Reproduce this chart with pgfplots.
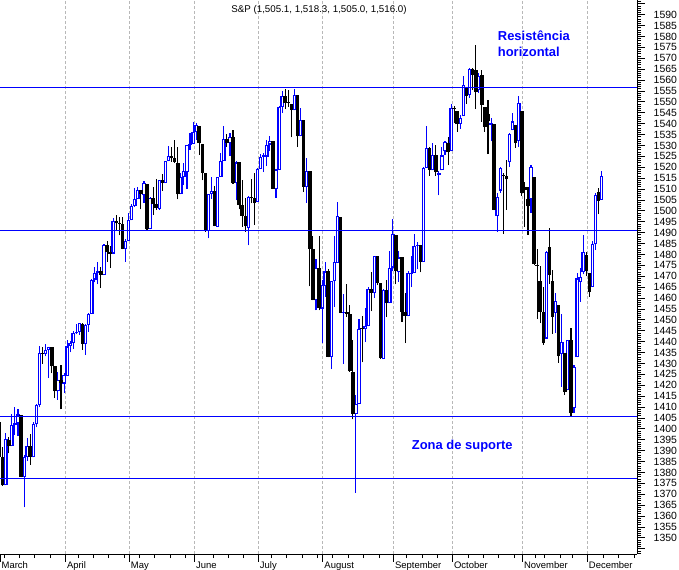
\documentclass[border=0pt]{standalone}
\usepackage{pgfplots}
\pgfplotsset{compat=1.18}
\usepackage{pgfplotstable}
\usepackage{fontspec}
\setmainfont{Liberation Sans}
\definecolor{cblue}{RGB}{0,0,255}

% up candles (close >= open): x O H L C
\pgfplotstableread{
x O H L C
3 1374.1 1397.9 1374.1 1395.4
5 1392.0 1407.0 1392.0 1401.9
6 1401.9 1410.2 1397.3 1402.8
7 1402.8 1409.3 1396.7 1406.6
9 1377.9 1388.1 1364.0 1387.2
10 1387.1 1395.7 1385.2 1392.3
12 1386.9 1403.2 1386.9 1402.1
13 1402.0 1411.5 1400.7 1410.9
14 1410.9 1437.8 1409.9 1435.0
16 1434.5 1438.9 1433.2 1436.1
17 1436.1 1437.7 1423.3 1437.5
20 1417.2 1426.2 1413.3 1422.5
22 1420.8 1425.5 1416.4 1424.6
23 1424.3 1440.6 1424.3 1437.8
24 1437.8 1440.2 1435.1 1439.4
25 1439.4 1444.9 1436.7 1443.8
26 1443.8 1448.1 1443.3 1444.6
27 1444.6 1448.7 1443.0 1448.4
29 1438.9 1448.0 1433.9 1447.8
30 1447.8 1453.1 1444.6 1452.9
31 1452.8 1468.6 1452.8 1468.3
32 1468.5 1474.4 1467.2 1471.5
33 1471.5 1476.6 1466.4 1472.5
35 1470.7 1484.7 1470.7 1484.4
38 1480.4 1496.6 1480.4 1495.4
42 1482.4 1487.3 1476.7 1486.3
43 1486.1 1499.1 1486.1 1495.9
44 1495.6 1503.3 1495.6 1502.4
45 1502.4 1510.3 1501.8 1505.6
46 1505.6 1511.0 1505.5 1509.5
48 1507.3 1513.8 1503.8 1512.6
50 1491.5 1506.2 1491.5 1505.9
53 1500.8 1514.2 1500.4 1514.1
55 1512.7 1522.8 1512.7 1522.8
56 1522.8 1529.9 1522.7 1525.1
60 1507.5 1517.4 1507.5 1515.7
61 1515.6 1521.8 1512.0 1518.1
62 1517.6 1530.2 1510.1 1530.2
63 1530.2 1535.6 1528.0 1530.6
64 1530.6 1540.6 1530.6 1536.3
65 1536.3 1540.5 1532.4 1539.2
69 1490.7 1507.8 1487.4 1507.7
70 1507.6 1515.4 1505.6 1509.1
72 1492.7 1515.7 1492.7 1515.7
73 1515.6 1526.4 1515.6 1523.0
74 1522.9 1538.7 1522.9 1532.9
76 1531.0 1535.9 1525.3 1533.7
78 1512.8 1522.9 1504.8 1522.2
82 1492.2 1506.8 1484.2 1506.3
85 1504.0 1519.5 1504.0 1519.4
86 1519.1 1526.0 1519.1 1524.9
87 1524.9 1526.6 1517.7 1525.4
88 1524.9 1532.4 1520.5 1530.4
89 1530.4 1534.3 1527.5 1531.9
91 1509.9 1519.3 1506.1 1518.8
92 1518.7 1547.9 1518.7 1547.7
93 1547.7 1555.1 1544.9 1552.5
97 1546.1 1555.9 1546.1 1553.1
99 1534.1 1547.2 1534.1 1541.6
101 1511.0 1524.3 1503.8 1518.1
104 1458.9 1477.9 1454.3 1473.9
106 1455.2 1468.4 1439.6 1465.8
107 1465.5 1476.4 1460.6 1472.2
109 1433.0 1467.7 1427.4 1467.7
110 1467.6 1488.3 1455.8 1476.7
111 1476.2 1503.9 1476.2 1497.5
113 1453.1 1462.0 1429.7 1453.6
117 1406.6 1415.7 1370.6 1411.3
118 1411.3 1450.3 1411.3 1445.9
120 1445.6 1455.3 1439.8 1447.1
121 1447.0 1464.9 1447.0 1464.1
123 1462.3 1479.4 1460.1 1479.4
126 1432.0 1464.0 1432.0 1463.8
128 1457.6 1481.5 1457.6 1474.0
129 1474.0 1496.4 1472.2 1489.4
131 1472.0 1481.5 1467.4 1478.6
134 1451.7 1472.5 1451.7 1471.5
135 1471.1 1479.5 1465.0 1471.6
136 1471.5 1489.6 1471.5 1484.0
137 1483.9 1485.9 1473.2 1484.3
139 1476.6 1519.9 1476.6 1519.8
140 1519.8 1538.7 1519.8 1529.0
142 1518.6 1530.9 1518.6 1525.8
144 1516.3 1518.3 1507.1 1517.2
145 1518.6 1529.4 1518.6 1525.4
146 1527.3 1532.2 1525.8 1531.4
148 1527.3 1549.0 1527.3 1547.0
151 1539.9 1544.0 1537.6 1542.8
152 1543.4 1561.9 1543.4 1557.6
154 1553.2 1565.3 1551.8 1565.2
157 1555.4 1563.0 1554.1 1561.8
161 1539.3 1542.8 1531.8 1540.1
163 1497.8 1508.1 1490.4 1506.3
164 1509.3 1520.0 1508.2 1519.6
167 1522.2 1535.5 1520.2 1535.3
168 1536.9 1544.7 1536.9 1541.0
170 1532.2 1552.8 1529.4 1549.4
174 1505.3 1520.8 1499.1 1520.3
179 1441.4 1481.4 1441.4 1481.1
182 1453.1 1462.2 1443.9 1458.7
184 1434.5 1452.6 1419.3 1439.7
186 1417.6 1440.9 1417.6 1440.7
188 1409.6 1429.5 1407.4 1428.2
189 1432.9 1471.6 1432.9 1469.0
190 1467.4 1473.8 1458.4 1469.7
191 1471.8 1488.9 1470.9 1481.1
194 1465.2 1486.1 1465.2 1485.0
195 1484.6 1508.0 1482.2 1507.3
197 1505.1 1518.3 1505.0 1516.0
}\uptab

% down candles (close < open): x O H L C
\pgfplotstableread{
x O H L C
1 1403.2 1403.4 1386.9 1387.2
2 1387.1 1391.9 1374.0 1374.1
4 1395.0 1396.1 1388.8 1392.0
8 1406.2 1406.2 1377.7 1378.0
11 1392.3 1397.5 1383.6 1387.0
15 1435.0 1437.7 1429.9 1434.5
18 1437.5 1437.5 1425.5 1428.6
19 1428.6 1428.6 1414.1 1417.2
21 1422.5 1429.2 1408.9 1420.9
28 1448.2 1448.4 1436.2 1438.9
34 1472.5 1474.2 1464.5 1470.7
36 1484.4 1486.3 1476.7 1480.9
37 1480.9 1483.8 1473.7 1480.4
39 1495.3 1498.0 1491.4 1494.3
40 1494.2 1497.3 1488.7 1494.1
41 1494.1 1497.2 1482.3 1482.4
47 1509.4 1509.4 1500.7 1507.7
49 1512.3 1512.3 1491.4 1491.5
51 1505.8 1510.9 1498.3 1503.2
52 1503.1 1514.8 1500.4 1501.2
54 1514.0 1517.1 1509.3 1512.8
57 1525.1 1529.2 1522.6 1524.1
58 1524.1 1532.4 1521.9 1522.3
59 1522.1 1529.3 1505.2 1507.5
66 1539.1 1539.1 1525.6 1531.0
67 1530.6 1530.6 1514.0 1517.4
68 1517.4 1517.4 1490.4 1490.7
71 1509.1 1511.3 1492.9 1493.0
75 1532.9 1535.4 1529.3 1531.1
77 1533.7 1537.3 1512.4 1512.8
79 1522.2 1522.2 1500.7 1502.6
80 1502.6 1514.3 1492.7 1497.7
81 1497.7 1506.1 1490.5 1492.9
83 1506.3 1514.8 1503.4 1505.7
84 1505.7 1517.5 1493.6 1503.4
90 1531.9 1531.9 1510.0 1510.1
94 1552.5 1555.9 1546.7 1549.5
95 1549.5 1555.3 1547.7 1549.4
96 1549.2 1549.2 1533.7 1546.2
98 1553.2 1553.2 1529.2 1534.1
100 1541.6 1541.6 1508.6 1511.0
102 1518.1 1518.1 1465.3 1482.7
103 1482.4 1488.5 1458.9 1459.0
105 1473.9 1488.3 1454.3 1455.3
108 1472.2 1473.2 1432.8 1433.1
112 1497.2 1497.2 1453.1 1453.1
114 1453.4 1466.3 1451.5 1452.9
115 1452.9 1456.7 1426.2 1426.5
116 1426.2 1440.8 1404.4 1406.7
119 1445.9 1451.8 1430.5 1445.6
122 1464.1 1472.1 1453.9 1462.5
124 1479.4 1479.4 1465.8 1466.8
125 1466.7 1466.7 1432.0 1432.4
127 1463.7 1468.4 1451.3 1457.6
130 1488.8 1488.8 1466.3 1472.3
132 1478.6 1478.6 1449.1 1453.6
133 1453.5 1462.3 1439.3 1451.7
138 1484.2 1484.2 1471.8 1476.7
141 1528.7 1529.1 1516.0 1518.8
143 1525.8 1530.2 1516.2 1517.7
147 1531.2 1533.7 1521.0 1526.8
149 1546.9 1548.0 1540.4 1546.6
150 1545.8 1545.8 1536.3 1539.6
153 1556.5 1556.5 1549.0 1552.6
155 1565.0 1565.4 1555.5 1562.5
156 1564.7 1576.1 1546.7 1554.4
158 1562.3 1564.7 1540.8 1548.7
159 1547.8 1547.8 1536.3 1538.5
160 1544.4 1550.7 1526.0 1541.2
162 1540.0 1540.0 1500.3 1500.6
165 1516.6 1517.2 1489.6 1515.9
166 1516.2 1523.2 1500.5 1514.4
169 1539.4 1539.4 1529.0 1531.0
171 1545.8 1545.8 1506.8 1508.4
172 1511.1 1513.2 1492.5 1509.7
173 1505.6 1510.8 1489.0 1502.2
175 1515.5 1515.5 1475.0 1475.6
176 1475.3 1482.5 1450.3 1474.8
177 1467.6 1474.8 1448.5 1453.7
178 1453.7 1464.9 1438.5 1439.2
180 1483.4 1492.1 1466.5 1470.6
181 1468.0 1472.7 1443.5 1451.2
183 1456.7 1456.7 1430.4 1433.3
185 1434.7 1434.7 1415.6 1416.8
187 1440.7 1446.1 1406.1 1407.2
192 1479.6 1481.2 1470.1 1472.4
193 1471.3 1471.3 1460.7 1462.8
196 1508.6 1510.6 1498.4 1504.7
}\dntab

\pgfplotsset{
  candlepart/.style 2 args={draw=none, mark=none, forget plot,
    error bars/.cd, y dir=plus, y explicit, error mark=none,
    error bar style={draw=#1, line width=#2, solid}},
}

\begin{document}
\begin{tikzpicture}
\useasboundingbox (0,0) rectangle (679bp,570bp);
\begin{axis}[
  at={(0,16bp)}, anchor=south west, scale only axis,
  width=637bp, height=554bp,
  xmin=1.14, xmax=208.5, ymin=1342.6, ymax=1596.7,
  axis x line*=bottom, axis y line*=right,
  axis line style={-, black, line width=0.9bp},
  tick align=outside,
  major tick length=7.5bp, minor tick length=4bp,
  every tick/.style={black, line width=0.8bp},
  xtick={22.4,43.2,64.4,85.2,106.2,129.2,148.4,171.2,192.3},
  xticklabels={April,May,June,July,August,September,October,November,December},
  extra x ticks={1.14}, extra x tick labels={March},
  extra x tick style={grid=none},
  minor xtick={2.5,7.5,12.5,17.5,26.5,31.5,36.5,41.5,46.5,51.5,56.5,61.5,70.5,75.5,80.5,89.5,94.5,99.5,104.5,109.5,114.5,119.5,124.5,133.5,138.5,143.5,153.5,158.5,163.5,168.5,175.5,178.5,183.5,187.5,197.5,202.5,207.5},
  xmajorgrids,
  major grid style={draw=black!28, dash pattern=on 2.5bp off 2.5bp, line width=0.8bp},
  ytick={1345,1350,...,1595},
  yticklabels={,1350,1355,1360,1365,1370,1375,1380,1385,1390,1395,1400,1405,1410,1415,1420,1425,1430,1435,1440,1445,1450,1455,1460,1465,1470,1475,1480,1485,1490,1495,1500,1505,1510,1515,1520,1525,1530,1535,1540,1545,1550,1555,1560,1565,1570,1575,1580,1585,1590,},
  minor ytick={1343,1344,...,1596},
  xticklabel style={anchor=north west, inner sep=0pt, xshift=1.5bp, font=\fontsize{9.5}{11}\selectfont},
  yticklabel style={anchor=west, inner sep=0pt, xshift=9bp, font=\fontsize{10.5}{12}\selectfont},
  /pgf/number format/assume math mode=true,
  /pgf/number format/1000 sep={},
  clip=true,
]
% wicks
\addplot[candlepart={cblue}{1.1bp}]
  table[x=x, y=L, y error plus expr={\thisrow{H}-\thisrow{L}}] {\uptab};
\addplot[candlepart={black}{1.1bp}]
  table[x=x, y=L, y error plus expr={\thisrow{H}-\thisrow{L}}] {\dntab};
% bodies up (hollow blue)
\addplot[candlepart={cblue}{3.6bp}]
  table[x=x, y=O, y error plus expr={max(\thisrow{C}-\thisrow{O},0.5)}] {\uptab};
\addplot[candlepart={white}{1.2bp}]
  table[x=x, y expr={\thisrow{O}+0.5}, y error plus expr={max(\thisrow{C}-\thisrow{O}-1.0,0)}] {\uptab};
% bodies down (filled black)
\addplot[candlepart={black}{3.6bp}]
  table[x=x, y=C, y error plus expr={max(\thisrow{O}-\thisrow{C},0.5)}] {\dntab};
% horizontal support / resistance lines
\addplot[cblue, line width=0.9bp, forget plot] coordinates {(1.14,1556.7) (208.5,1556.7)};
\addplot[cblue, line width=0.9bp, forget plot] coordinates {(1.14,1491.1) (208.5,1491.1)};
\addplot[cblue, line width=0.9bp, forget plot] coordinates {(1.14,1405.6) (208.5,1405.6)};
\addplot[cblue, line width=0.9bp, forget plot] coordinates {(1.14,1377.4) (208.5,1377.4)};
\end{axis}
\node[font=\fontsize{9.8}{11}\selectfont, inner sep=0pt] at (319bp,560.5bp) {S\&P (1,505.1, 1,518.3, 1,505.0, 1,516.0)};
\node[anchor=base west, inner sep=0pt, text=cblue, font=\bfseries\fontsize{13}{15}\selectfont] at (497.7bp,529bp) {Resistência};
\node[anchor=base west, inner sep=0pt, text=cblue, font=\bfseries\fontsize{13}{15}\selectfont] at (497.7bp,513.3bp) {horizontal};
\node[anchor=base west, inner sep=0pt, text=cblue, font=\bfseries\fontsize{13}{15}\selectfont] at (411.7bp,120bp) {Zona de suporte};
\end{tikzpicture}
\end{document}
